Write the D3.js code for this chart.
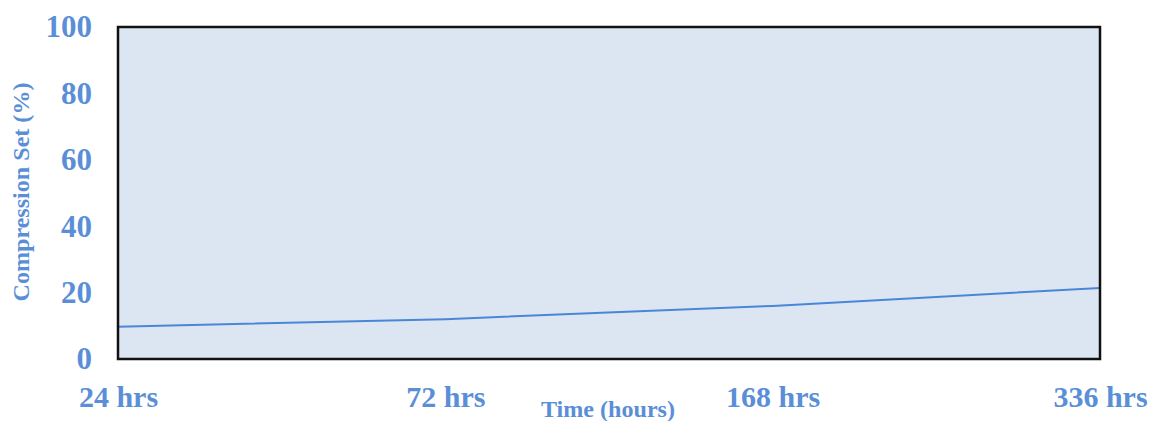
<!DOCTYPE html>
<html>
<head>
<meta charset="utf-8">
<script src="https://cdn.jsdelivr.net/npm/d3@7"></script>
<style>
  html, body { margin: 0; padding: 0; background: #fff; }
  svg { display: block; }
</style>
</head>
<body>
<div id="chart"></div>
<script>
// data
var timeLabels = ['24 hrs', '72 hrs', '168 hrs', '336 hrs'];
var compressionSet = [9.7, 12.0, 16.0, 21.4];
var yTicks = [0, 20, 40, 60, 80, 100];

function drawChart() {
    var width = 1150, height = 421;
    var margin = { top: 27, right: 50, bottom: 62, left: 118 };
    var blue = '#5a8fd8';
    var font = '"Liberation Serif", "Times New Roman", serif';

    var svg = d3.select('#chart').append('svg')
        .attr('width', width)
        .attr('height', height);

    var innerWidth = width - margin.left - margin.right;
    var innerHeight = height - margin.top - margin.bottom;

    var g = svg.append('g').attr('transform', 'translate(' + margin.left + ',' + margin.top + ')');

    var x = d3.scalePoint()
        .domain(timeLabels)
        .range([0, innerWidth]);

    var y = d3.scaleLinear()
        .domain([0, 100])
        .range([innerHeight, 0]);

    // plot area
    g.append('rect')
        .attr('width', innerWidth)
        .attr('height', innerHeight)
        .attr('fill', '#dce6f2');

    var data = timeLabels.map(function(t, i){ return { t: t, v: compressionSet[i] }; });

    var line = d3.line()
        .x(function(d){ return x(d.t); })
        .y(function(d){ return y(d.v); })
        .curve(d3.curveMonotoneX);

    g.append('path')
        .datum(data)
        .attr('fill', 'none')
        .attr('stroke', '#4a86d8')
        .attr('stroke-width', 2)
        .attr('d', line);

    // border
    g.append('rect')
        .attr('width', innerWidth)
        .attr('height', innerHeight)
        .attr('fill', 'none')
        .attr('stroke', '#111')
        .attr('stroke-width', 2.5);

    // axes
    var yAxis = g.append('g')
        .call(d3.axisLeft(y).tickValues(yTicks).tickSize(0).tickPadding(26));
    yAxis.select('.domain').remove();
    yAxis.selectAll('text')
        .attr('fill', blue)
        .style('font-family', font)
        .style('font-weight', 'bold')
        .style('font-size', '31px');

    var xAxis = g.append('g')
        .attr('transform', 'translate(0,' + innerHeight + ')')
        .call(d3.axisBottom(x).tickSize(0).tickPadding(27));
    xAxis.select('.domain').remove();
    xAxis.selectAll('text')
        .attr('fill', blue)
        .style('font-family', font)
        .style('font-weight', 'bold')
        .style('font-size', '30px');

    // axis titles
    svg.append('text')
        .attr('x', 608)
        .attr('y', 417)
        .attr('text-anchor', 'middle')
        .attr('fill', blue)
        .style('font-family', font)
        .style('font-weight', 'bold')
        .style('font-size', '23px')
        .attr('textLength', 134)
        .attr('lengthAdjust', 'spacingAndGlyphs')
        .text('Time (hours)');

    svg.append('text')
        .attr('transform', 'translate(29,' + 192 + ') rotate(-90)')
        .attr('text-anchor', 'middle')
        .attr('fill', blue)
        .style('font-family', font)
        .style('font-weight', 'bold')
        .style('font-size', '23px')
        .attr('textLength', 219)
        .attr('lengthAdjust', 'spacingAndGlyphs')
        .text('Compression Set (%)');
}

drawChart();
</script>
</body>
</html>
